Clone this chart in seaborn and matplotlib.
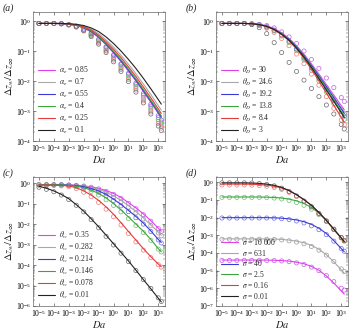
import numpy as np
import matplotlib
matplotlib.use("Agg")
import matplotlib.pyplot as plt
import seaborn as sns

# Da grid (log10) shared by all panels
LOG_DA = [-5, -4.5, -4, -3.5, -3, -2.5, -2, -1.5, -1, -0.5, 0, 0.5, 1, 1.5, 2, 2.5, 3, 3.2]

LINE_COLORS = ["#e23ef0", "#a8a8a8", "#3a3ad8", "#3aa53a", "#e53a3a", "#222222"]
MARK_COLORS = ["#c45ce6", "#9a9a9a", "#6d6de6", "#6cc06c", "#f07a7a", "#6a6a6a"]

# panel (a): alpha_e
A_LABELS = ["0.85", "0.7", "0.55", "0.4", "0.25", "0.1"]
A_LINES = [
    [-0.08, -0.08, -0.08, -0.09, -0.11, -0.15, -0.23, -0.36, -0.55, -0.79, -1.06, -1.35, -1.67, -2.0, -2.35, -2.71, -3.08, -3.23],
    [-0.08, -0.08, -0.08, -0.08, -0.09, -0.12, -0.17, -0.27, -0.42, -0.63, -0.87, -1.14, -1.44, -1.76, -2.1, -2.45, -2.82, -2.97],
    [-0.08, -0.08, -0.08, -0.09, -0.11, -0.14, -0.22, -0.35, -0.53, -0.77, -1.04, -1.33, -1.64, -1.97, -2.32, -2.68, -3.05, -3.2],
    [-0.08, -0.08, -0.08, -0.09, -0.10, -0.14, -0.21, -0.33, -0.51, -0.74, -1.0, -1.29, -1.6, -1.93, -2.28, -2.64, -3.01, -3.16],
    [-0.08, -0.08, -0.08, -0.08, -0.10, -0.13, -0.19, -0.30, -0.47, -0.69, -0.94, -1.22, -1.53, -1.85, -2.2, -2.56, -2.93, -3.08],
    [-0.08, -0.08, -0.08, -0.08, -0.09, -0.11, -0.15, -0.23, -0.35, -0.53, -0.75, -1.0, -1.28, -1.58, -1.91, -2.26, -2.62, -2.77],
]
A_MARKS = [
    [-0.08, -0.08, -0.08, -0.09, -0.12, -0.17, -0.27, -0.42, -0.63, -0.88, -1.16, -1.46, -1.78, -2.12, -2.47, -2.84, -3.22, -3.37],
    [-0.08, -0.08, -0.08, -0.09, -0.12, -0.18, -0.3, -0.47, -0.7, -0.97, -1.26, -1.57, -1.9, -2.24, -2.6, -2.97, -3.35, -3.5],
    [-0.08, -0.08, -0.08, -0.09, -0.12, -0.17, -0.27, -0.41, -0.62, -0.86, -1.13, -1.43, -1.74, -2.07, -2.42, -2.78, -3.15, -3.3],
    [-0.08, -0.08, -0.08, -0.09, -0.12, -0.18, -0.29, -0.45, -0.67, -0.93, -1.21, -1.52, -1.84, -2.18, -2.54, -2.9, -3.28, -3.43],
    [-0.08, -0.08, -0.08, -0.09, -0.13, -0.19, -0.31, -0.49, -0.73, -1.0, -1.3, -1.62, -1.95, -2.3, -2.66, -3.03, -3.42, -3.57],
    [-0.08, -0.08, -0.08, -0.09, -0.13, -0.2, -0.33, -0.52, -0.77, -1.05, -1.36, -1.68, -2.02, -2.37, -2.73, -3.1, -3.5, -3.65],
]

# panel (b): theta_D
B_LABELS = ["30", "24.6", "19.2", "13.8", "8.4", "3"]
B_LINES = [
    [-0.08, -0.08, -0.08, -0.08, -0.09, -0.11, -0.16, -0.25, -0.39, -0.58, -0.82, -1.11, -1.43, -1.77, -2.12, -2.47, -2.82, -2.96],
    [-0.08, -0.08, -0.08, -0.08, -0.09, -0.11, -0.17, -0.26, -0.41, -0.6, -0.84, -1.13, -1.46, -1.8, -2.16, -2.52, -2.88, -3.02],
    [-0.08, -0.08, -0.08, -0.08, -0.09, -0.12, -0.17, -0.27, -0.42, -0.61, -0.86, -1.15, -1.48, -1.83, -2.19, -2.56, -2.93, -3.08],
    [-0.08, -0.08, -0.08, -0.08, -0.09, -0.12, -0.18, -0.28, -0.43, -0.63, -0.88, -1.18, -1.52, -1.88, -2.25, -2.63, -3.01, -3.16],
    [-0.08, -0.08, -0.08, -0.08, -0.09, -0.12, -0.18, -0.29, -0.45, -0.66, -0.93, -1.25, -1.61, -2.0, -2.4, -2.81, -3.22, -3.38],
    [-0.08, -0.08, -0.08, -0.08, -0.09, -0.12, -0.18, -0.28, -0.44, -0.64, -0.9, -1.2, -1.55, -1.92, -2.3, -2.68, -3.06, -3.22],
]
B_MARKS = [
    [-0.08, -0.08, -0.08, -0.08, -0.09, -0.11, -0.15, -0.23, -0.36, -0.53, -0.75, -1.0, -1.28, -1.58, -1.9, -2.22, -2.55, -2.68],
    [-0.08, -0.08, -0.08, -0.08, -0.1, -0.13, -0.19, -0.3, -0.46, -0.67, -0.93, -1.22, -1.54, -1.88, -2.23, -2.59, -2.95, -3.1],
    [-0.08, -0.08, -0.08, -0.08, -0.1, -0.13, -0.2, -0.31, -0.47, -0.68, -0.94, -1.24, -1.57, -1.92, -2.28, -2.65, -3.02, -3.17],
    [-0.08, -0.08, -0.08, -0.08, -0.1, -0.14, -0.21, -0.33, -0.5, -0.72, -0.99, -1.3, -1.64, -2.0, -2.37, -2.75, -3.13, -3.28],
    [-0.08, -0.08, -0.08, -0.08, -0.1, -0.15, -0.24, -0.38, -0.58, -0.82, -1.1, -1.42, -1.77, -2.14, -2.52, -2.91, -3.3, -3.45],
    [-0.08, -0.08, -0.08, -0.08, -0.12, -0.22, -0.42, -0.72, -1.05, -1.38, -1.68, -1.97, -2.25, -2.52, -2.8, -3.1, -3.45, -3.6],
]

# panel (c): theta_w
C_LABELS = ["0.35", "0.282", "0.214", "0.146", "0.078", "0.01"]
C_LINES = [
    [-0.08, -0.08, -0.08, -0.08, -0.09, -0.1, -0.13, -0.18, -0.25, -0.36, -0.5, -0.7, -0.95, -1.21, -1.5, -1.83, -2.2, -2.35],
    [-0.08, -0.08, -0.08, -0.08, -0.09, -0.11, -0.15, -0.21, -0.3, -0.44, -0.62, -0.84, -1.1, -1.39, -1.7, -2.04, -2.4, -2.55],
    [-0.08, -0.08, -0.08, -0.08, -0.1, -0.12, -0.17, -0.26, -0.38, -0.55, -0.78, -1.04, -1.33, -1.63, -1.95, -2.33, -2.75, -2.9],
    [-0.08, -0.08, -0.08, -0.09, -0.11, -0.15, -0.22, -0.34, -0.5, -0.72, -1.0, -1.31, -1.65, -2.0, -2.35, -2.75, -3.2, -3.35],
    [-0.09, -0.09, -0.1, -0.11, -0.14, -0.22, -0.38, -0.58, -0.84, -1.16, -1.52, -1.93, -2.36, -2.78, -3.2, -3.59, -3.95, -4.08],
    [-0.15, -0.25, -0.38, -0.55, -0.76, -1.05, -1.37, -1.74, -2.13, -2.54, -2.96, -3.38, -3.8, -4.25, -4.71, -5.16, -5.62, -5.8],
]
C_MARKS = [
    [-0.08, -0.08, -0.08, -0.08, -0.09, -0.11, -0.14, -0.2, -0.28, -0.4, -0.55, -0.75, -0.99, -1.25, -1.54, -1.86, -2.22, -2.36],
    [-0.08, -0.08, -0.08, -0.08, -0.1, -0.12, -0.17, -0.24, -0.35, -0.5, -0.69, -0.91, -1.17, -1.45, -1.75, -2.08, -2.43, -2.57],
    [-0.08, -0.08, -0.08, -0.09, -0.1, -0.14, -0.2, -0.3, -0.44, -0.62, -0.85, -1.11, -1.39, -1.69, -2.0, -2.36, -2.77, -2.92],
    [-0.08, -0.08, -0.09, -0.09, -0.12, -0.17, -0.26, -0.4, -0.58, -0.81, -1.09, -1.4, -1.73, -2.07, -2.41, -2.79, -3.22, -3.36],
    [-0.09, -0.1, -0.11, -0.13, -0.17, -0.26, -0.44, -0.66, -0.94, -1.27, -1.64, -2.04, -2.46, -2.87, -3.27, -3.64, -3.98, -4.1],
    [-0.2, -0.3, -0.42, -0.58, -0.8, -1.08, -1.4, -1.78, -2.18, -2.6, -3.02, -3.42, -3.83, -4.27, -4.71, -5.14, -5.6, -5.78],
]

# panel (d): sigma
D_LABELS = ["10\u2009000", "631", "40", "2.5", "0.16", "0.01"]
D_LINES = [
    [-4.4, -4.4, -4.4, -4.4, -4.4, -4.4, -4.4, -4.41, -4.43, -4.46, -4.52, -4.61, -4.76, -4.98, -5.3, -5.7, -6.15, -6.33],
    [-3.2, -3.2, -3.2, -3.2, -3.2, -3.2, -3.2, -3.21, -3.23, -3.27, -3.33, -3.42, -3.57, -3.79, -4.1, -4.5, -4.95, -5.15],
    [-2.0, -2.0, -2.0, -2.0, -2.0, -2.0, -2.0, -2.01, -2.03, -2.07, -2.13, -2.23, -2.38, -2.6, -2.9, -3.3, -3.75, -3.93],
    [-0.83, -0.83, -0.83, -0.83, -0.83, -0.83, -0.84, -0.86, -0.89, -0.95, -1.05, -1.2, -1.42, -1.75, -2.17, -2.66, -3.16, -3.36],
    [-0.1, -0.1, -0.1, -0.1, -0.11, -0.13, -0.16, -0.22, -0.32, -0.48, -0.71, -0.99, -1.31, -1.71, -2.16, -2.66, -3.16, -3.36],
    [-0.03, -0.03, -0.03, -0.03, -0.04, -0.06, -0.1, -0.17, -0.29, -0.46, -0.7, -0.98, -1.3, -1.7, -2.15, -2.65, -3.15, -3.35],
]
D_MARKS = [
    [-4.42, -4.42, -4.42, -4.42, -4.42, -4.42, -4.42, -4.43, -4.45, -4.49, -4.56, -4.65, -4.8, -5.0, -5.28, -5.62, -6.0, -6.1],
    [-3.22, -3.22, -3.22, -3.22, -3.22, -3.22, -3.22, -3.23, -3.26, -3.31, -3.38, -3.48, -3.63, -3.84, -4.12, -4.48, -4.9, -5.05],
    [-2.02, -2.02, -2.02, -2.02, -2.02, -2.02, -2.02, -2.03, -2.06, -2.11, -2.19, -2.3, -2.46, -2.68, -2.96, -3.33, -3.75, -3.9],
    [-0.85, -0.85, -0.85, -0.85, -0.85, -0.85, -0.86, -0.89, -0.94, -1.02, -1.14, -1.3, -1.52, -1.83, -2.22, -2.68, -3.14, -3.32],
    [-0.15, -0.15, -0.15, -0.15, -0.16, -0.18, -0.22, -0.29, -0.4, -0.57, -0.8, -1.08, -1.4, -1.78, -2.2, -2.67, -3.14, -3.32],
    [-0.03, -0.03, -0.03, -0.03, -0.04, -0.07, -0.12, -0.2, -0.33, -0.52, -0.77, -1.06, -1.38, -1.76, -2.18, -2.65, -3.12, -3.3],
]

PANELS = [
    ("(a)", r"$\alpha_e$", A_LABELS, A_LINES, A_MARKS, 1e-4),
    ("(b)", r"$\theta_D$", B_LABELS, B_LINES, B_MARKS, 1e-4),
    ("(c)", r"$\theta_w$", C_LABELS, C_LINES, C_MARKS, 1e-6),
    ("(d)", r"$\sigma$", D_LABELS, D_LINES, D_MARKS, 1e-7),
]

sns.set_theme(style="ticks")
plt.rcParams["font.family"] = ["Liberation Serif", "DejaVu Serif"]
plt.rcParams["mathtext.fontset"] = "stix"

fig = plt.figure(figsize=(3.5, 3.35), dpi=100)
W, H = 350.0, 335.0
# axes boxes in pixels: (left, top, right, bottom)
boxes = [(33, 12, 165, 141), (216, 12, 348, 141), (33, 177, 165, 306), (216, 177, 348, 306)]
label_pos = [(3, 3), (186, 3), (3, 168), (186, 168)]

da = 10 ** np.array(LOG_DA)

for (tag, sym, labels, lines, marks, ymin), box, lp in zip(PANELS, boxes, label_pos):
    l, t, r, b = box
    ax = fig.add_axes([l / W, 1 - b / H, (r - l) / W, (b - t) / H])
    ax.set_xscale("log")
    ax.set_yscale("log")

    for i in range(6):
        sns.scatterplot(x=da, y=10 ** np.array(marks[i]), ax=ax, marker="o", s=9,
                        color=MARK_COLORS[i], facecolor="none", edgecolor=MARK_COLORS[i],
                        linewidth=0.5, zorder=2)
    for i in range(6):
        sns.lineplot(x=da, y=10 ** np.array(lines[i]), ax=ax, color=LINE_COLORS[i],
                     lw=0.8, label=f"{sym} = {labels[i]}", zorder=3)

    ax.set_xlim(10 ** -5.4, 10 ** 3.45)
    ax.set_ylim(ymin, 2.0)
    ax.set_xticks([10.0 ** k for k in range(-5, 4)])
    ax.set_yticks([10.0 ** k for k in range(int(np.log10(ymin)), 1)])
    ax.tick_params(which="both", direction="in", top=True, right=True, labelsize=5.5,
                   pad=1.5, colors="#333333", labelcolor="black")
    ax.tick_params(which="major", length=2.5, width=0.4)
    ax.tick_params(which="minor", length=1.3, width=0.3)
    for sp in ax.spines.values():
        sp.set_linewidth(0.5)
        sp.set_color("#666666")

    ax.set_xlabel("$Da$", fontsize=7.5, labelpad=0)
    ax.set_ylabel(r"$\Delta z_w/\Delta z_\infty$", fontsize=7.5, labelpad=0)

    ax.legend(loc="lower left", frameon=False, fontsize=5.5, handlelength=2.2,
              handletextpad=0.5, labelspacing=0.1, borderaxespad=0.3)
    fig.text(lp[0] / W, 1 - lp[1] / H, tag, fontsize=7, style="italic", va="top", ha="left")

fig.savefig("out.png", dpi=100)
